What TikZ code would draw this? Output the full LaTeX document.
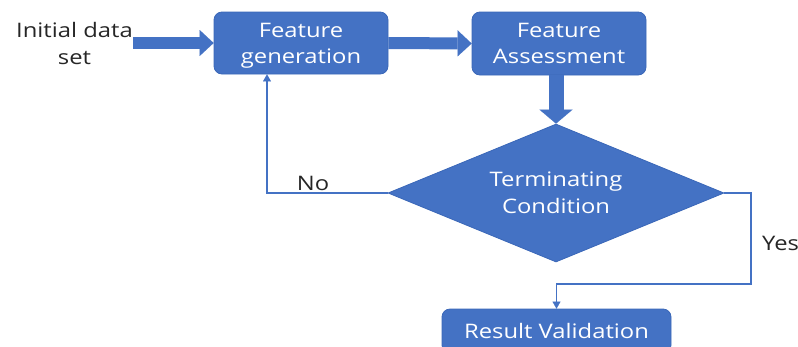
\documentclass[tikz,border=0pt]{standalone}
\usepackage{fontspec}
\setmainfont{Open Sans}[FakeStretch=1.19]
\usetikzlibrary{arrows.meta,shapes.geometric,calc}
\definecolor{boxblue}{HTML}{4472C4}
\definecolor{boxedge}{HTML}{3A67B8}
\definecolor{labelgray}{HTML}{262626}
\begin{document}
\begin{tikzpicture}[x=1pt,y=-1pt,
  box/.style={rectangle,rounded corners=8pt,fill=boxblue,draw=boxedge,line width=0.8pt,
    text=white,align=center,inner sep=0pt,font=\fontsize{20}{26}\selectfont},
  decision/.style={diamond,fill=boxblue,draw=boxedge,line width=0.8pt,text=white,align=center,
    inner sep=0pt,aspect=2.43,minimum width=336pt,minimum height=138pt,
    font=\fontsize{20}{27}\selectfont},
  lbl/.style={text=labelgray,inner sep=0pt,align=center,font=\fontsize{20}{27}\selectfont},
  fat/.style={draw=boxblue,line width=12pt,
    -{Triangle[width=26pt,length=14pt,line width=0.01pt]}},
  fatdown/.style={draw=boxblue,line width=15pt,
    -{Triangle[width=33pt,length=14pt,line width=0.01pt]}},
  conn/.style={draw=boxblue,line width=1.6pt,
    -{Triangle[width=8pt,length=7pt,line width=0.01pt]}}]
\useasboundingbox (0,0) rectangle (798,346);

\node[lbl,anchor=east] (init) at (133,43) {Initial data\\set};
\node[box,minimum width=174pt,minimum height=62pt] (gen) at (301,43) {Feature\\\smash{generation}};
\node[box,minimum width=174pt,minimum height=63pt] (assess) at (559,43.5) {Feature\\\smash{Assessment}};
\node[decision] (diam) at (556,193) {Terminating\\Condition};
\node[box,minimum width=229pt,minimum height=44pt] (res) at (556.5,331) {Result Validation};
\node[lbl,anchor=center] (no) at (313,183) {No};
\node[lbl,anchor=west] (yes) at (762,243) {Yes};
\coordinate (yb) at (751,284);

\draw[fat] (init.east |- gen.west) -- (gen.west);
\draw[fat] (gen.east) -- (assess.west);
\draw[fatdown] (diam.north |- assess.south) -- (diam.north);
\draw[conn] (diam.west) -| ([xshift=-34pt]gen.south);
\draw[conn] (diam.east) -| (yb) -| (res.north);
\end{tikzpicture}
\end{document}
